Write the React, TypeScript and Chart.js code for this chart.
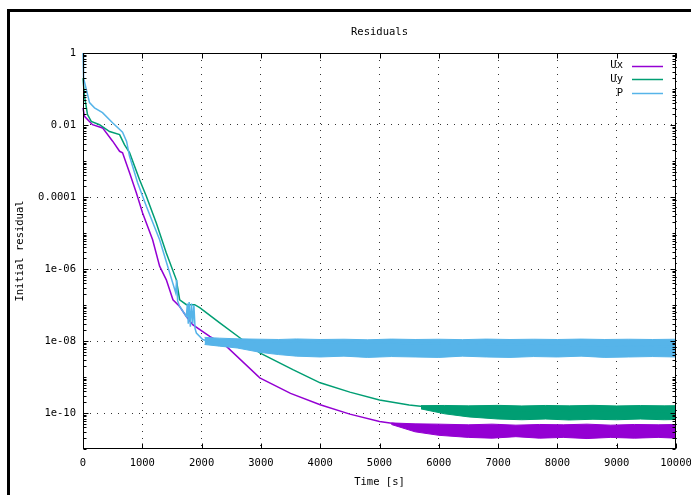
import React, { useEffect, useRef } from "react";
import { Chart, registerables } from "chart.js";

Chart.register(...registerables);

const chartTitle = "Residuals";
const xAxisTitle = "Time [s]";
const yAxisTitle = "Initial residual";
const seriesNames = ["Ux", "Uy", "P"];
const seriesColors = ["#9400D3", "#009E73", "#56B4E9"];

const xMin = 0;
const xMax = 10000;
const xStep = 1000;
const yMin = 1e-11;
const yMax = 1;
const yTickValues = [1, 1e-2, 1e-4, 1e-6, 1e-8, 1e-10];
const yTickLabels = ["1", "0.01", "0.0001", "1e-06", "1e-08", "1e-10"];

// Ux
const uxTime = [0, 25, 160, 330, 500, 617, 667, 785, 899, 1005, 1174, 1292, 1405, 1517, 1630, 1743, 1855, 2137, 2419, 2981, 3500, 4000, 4500, 5000, 5500, 6000, 10000];
const uxValue = [0.03, 0.0174, 0.0102, 0.0083, 0.00355, 0.00186, 0.0017, 4.7e-4, 1.32e-4, 3.6e-5, 6.5e-6, 1.2e-6, 5e-7, 1.4e-7, 9.1e-8, 4.8e-8, 2.8e-8, 1.35e-8, 7.1e-9, 9.5e-10, 3.5e-10, 1.7e-10, 9.3e-11, 5.8e-11, 4.4e-11, 3.6e-11, 3.4e-11];
const uxBandTime = [5200, 5600, 6000, 6500, 6900, 7300, 7700, 8100, 8500, 8900, 9300, 9700, 10000];
const uxBandHigh = [5.3e-11, 5e-11, 4.9e-11, 4.7e-11, 4.9e-11, 4.6e-11, 4.8e-11, 4.7e-11, 4.9e-11, 4.6e-11, 4.8e-11, 4.7e-11, 4.8e-11];
const uxBandLow = [4.8e-11, 3e-11, 2.4e-11, 2.1e-11, 2e-11, 2.2e-11, 2e-11, 2.1e-11, 1.95e-11, 2.1e-11, 2e-11, 2.1e-11, 2e-11];

// Uy
const uyTime = [0, 25, 76, 139, 279, 448, 617, 701, 785, 954, 1068, 1236, 1405, 1574, 1630, 1743, 1883, 1968, 2306, 2644, 2981, 3539, 3826, 4000, 4500, 5000, 5500, 6000, 6500, 10000];
const uyValue = [0.2, 0.063, 0.0195, 0.0126, 0.0102, 0.0066, 0.0054, 0.0028, 0.0017, 3.0e-4, 1.05e-4, 1.9e-5, 2.8e-6, 5e-7, 1.4e-7, 1.02e-7, 1.02e-7, 8.5e-8, 3.2e-8, 1.23e-8, 4.7e-9, 1.6e-9, 9.5e-10, 6.9e-10, 3.8e-10, 2.3e-10, 1.66e-10, 1.35e-10, 1.2e-10, 1.1e-10];
const uyBandTime = [5700, 6100, 6500, 7000, 7400, 7800, 8200, 8600, 9000, 9400, 9800, 10000];
const uyBandHigh = [1.6e-10, 1.62e-10, 1.58e-10, 1.63e-10, 1.57e-10, 1.62e-10, 1.58e-10, 1.63e-10, 1.57e-10, 1.61e-10, 1.58e-10, 1.6e-10];
const uyBandLow = [1.3e-10, 9.5e-11, 7.8e-11, 6.8e-11, 6.5e-11, 6.8e-11, 6.4e-11, 6.7e-11, 6.5e-11, 6.8e-11, 6.5e-11, 6.6e-11];

// P
const pTime = [0, 10, 110, 194, 329, 498, 667, 735, 785, 921, 1068, 1292, 1461, 1563, 1580, 1596, 1630, 1743, 1760, 1775, 1790, 1810, 1830, 1850, 1870, 1890, 1912, 2019, 2100, 10000];
const pValue = [1, 0.2, 0.042, 0.03, 0.022, 0.0115, 0.0063, 0.0035, 0.00135, 2.5e-4, 5.5e-5, 6.5e-6, 7.9e-7, 2.2e-7, 5e-7, 1.3e-7, 9.1e-8, 4.8e-8, 1.1e-7, 3e-8, 1.2e-7, 2.5e-8, 1.1e-7, 3e-8, 1e-7, 2.2e-8, 1.66e-8, 1.1e-8, 1e-8, 7e-9];
const pBandTime = [2050, 2300, 2600, 3000, 3300, 3600, 4000, 4400, 4800, 5200, 5600, 6000, 6400, 6800, 7200, 7600, 8000, 8400, 8800, 9200, 9600, 10000];
const pBandHigh = [1.26e-8, 1.2e-8, 1.15e-8, 1.12e-8, 1.1e-8, 1.14e-8, 1.1e-8, 1.12e-8, 1.08e-8, 1.13e-8, 1.1e-8, 1.12e-8, 1.09e-8, 1.13e-8, 1.1e-8, 1.12e-8, 1.1e-8, 1.13e-8, 1.1e-8, 1.12e-8, 1.1e-8, 1.12e-8];
const pBandLow = [8e-9, 7.2e-9, 6.4e-9, 4.8e-9, 4.2e-9, 3.8e-9, 3.6e-9, 3.8e-9, 3.5e-9, 3.7e-9, 3.6e-9, 3.5e-9, 3.8e-9, 3.6e-9, 3.5e-9, 3.7e-9, 3.6e-9, 3.8e-9, 3.5e-9, 3.6e-9, 3.7e-9, 3.6e-9];

const FONT_FAMILY = '"DejaVu Sans Mono", monospace';
const FONT_SIZE = 10.5;

function pts(t: number[], v: number[]) {
  return t.map((x, i) => ({ x, y: v[i] }));
}

export default function App() {
  const ref = useRef<HTMLCanvasElement>(null);

  useEffect(() => {
    const canvas = ref.current;
    if (!canvas) return;

    const seriesData = [
      { line: pts(uxTime, uxValue), hi: pts(uxBandTime, uxBandHigh), lo: pts(uxBandTime, uxBandLow) },
      { line: pts(uyTime, uyValue), hi: pts(uyBandTime, uyBandHigh), lo: pts(uyBandTime, uyBandLow) },
      { line: pts(pTime, pValue), hi: pts(pBandTime, pBandHigh), lo: pts(pBandTime, pBandLow) },
    ];

    const datasets: any[] = [];
    seriesData.forEach((s, i) => {
      const color = seriesColors[i];
      const order = 2 - i;
      const base = datasets.length;
      datasets.push({
        label: seriesNames[i],
        data: s.line,
        borderColor: color,
        backgroundColor: color,
        borderWidth: 1.5,
        pointRadius: 0,
        tension: 0,
        fill: false,
        order,
        clip: 2,
      });
      datasets.push({
        label: seriesNames[i] + " hi",
        data: s.hi,
        borderColor: color,
        backgroundColor: color,
        borderWidth: 1,
        pointRadius: 0,
        tension: 0,
        fill: false,
        order,
      });
      datasets.push({
        label: seriesNames[i] + " lo",
        data: s.lo,
        borderColor: color,
        backgroundColor: color,
        borderWidth: 1,
        pointRadius: 0,
        tension: 0,
        fill: { target: base + 1 },
        order,
      });
    });

    const font = `${FONT_SIZE}px ${FONT_FAMILY}`;

    const decor = {
      id: "decor",
      beforeDraw(chart: any) {
        const { ctx } = chart;
        ctx.save();
        ctx.fillStyle = "#fff";
        ctx.fillRect(0, 0, chart.width, chart.height);
        ctx.restore();
      },
      afterDraw(chart: any) {
        const { ctx, chartArea: a, scales } = chart;
        const xs = scales.x;
        const ys = scales.y;
        ctx.save();
        // outer frame
        ctx.fillStyle = "#000";
        ctx.fillRect(7, 9, 3, chart.height);
        ctx.fillRect(7, 9, chart.width, 3);

        // plot border
        ctx.strokeStyle = "#000";
        ctx.lineWidth = 1;
        const L = Math.round(a.left) + 0.5;
        const R = Math.round(a.right) - 0.5;
        const T = Math.round(a.top) + 0.5;
        const B = Math.round(a.bottom) - 0.5;
        ctx.strokeRect(L, T, R - L, B - T);

        // inward ticks
        ctx.beginPath();
        xs.ticks.forEach((t: any) => {
          const px = Math.round(xs.getPixelForValue(t.value)) + 0.5;
          ctx.moveTo(px, B);
          ctx.lineTo(px, B - 5);
          ctx.moveTo(px, T);
          ctx.lineTo(px, T + 5);
        });
        for (let d = -11; d <= 0; d++) {
          for (let k = 1; k <= 9; k++) {
            const v = k * Math.pow(10, d);
            if (v < yMin * 0.999 || v > yMax * 1.001) continue;
            const isMajor = yTickValues.some((m) => Math.abs(m - v) / m < 1e-6);
            const len = isMajor ? 5 : 3;
            const py = Math.round(ys.getPixelForValue(v)) + 0.5;
            ctx.moveTo(L, py);
            ctx.lineTo(L + len, py);
            ctx.moveTo(R, py);
            ctx.lineTo(R - len, py);
          }
        }
        ctx.stroke();

        // texts
        ctx.fillStyle = "#000";
        ctx.font = font;
        ctx.textAlign = "center";
        ctx.textBaseline = "middle";
        const cx = (a.left + a.right) / 2;
        ctx.fillText(chartTitle, cx, 32);
        ctx.fillText(xAxisTitle, cx, 482);
        ctx.save();
        ctx.translate(20, (a.top + a.bottom) / 2);
        ctx.rotate(-Math.PI / 2);
        ctx.fillText(yAxisTitle, 0, 0);
        ctx.restore();

        // legend
        const rowY = [65.5, 79.3, 93];
        seriesNames.forEach((name, i) => {
          ctx.textAlign = "right";
          ctx.fillStyle = "#000";
          ctx.fillText(name, 623, rowY[i]);
          ctx.strokeStyle = seriesColors[i];
          ctx.lineWidth = 1.5;
          ctx.beginPath();
          ctx.moveTo(632, Math.round(rowY[i]) + 0.5);
          ctx.lineTo(663, Math.round(rowY[i]) + 0.5);
          ctx.stroke();
        });
        ctx.restore();
      },
    };

    const gridColor = "rgba(0,0,0,0.8)";

    const chart = new Chart(canvas, {
      type: "line",
      data: { datasets },
      plugins: [decor],
      options: {
        animation: false,
        responsive: false,
        devicePixelRatio: 1,
        layout: { padding: { left: 0, right: 15, top: 53, bottom: 0 } },
        plugins: {
          legend: { display: false },
          title: { display: false },
          tooltip: { enabled: false },
        },
        scales: {
          x: {
            type: "linear",
            min: xMin,
            max: xMax,
            ticks: {
              stepSize: xStep,
              autoSkip: false,
              maxRotation: 0,
              padding: 8,
              color: "#000",
              font: { family: FONT_FAMILY, size: FONT_SIZE },
              callback: (v: any) => String(v),
            },
            grid: { color: gridColor, lineWidth: 1, drawTicks: false },
            border: { display: false, dash: [1, 6] },
            afterFit(s: any) {
              s.height = 46;
              s.paddingLeft = 0;
              s.paddingRight = 0;
            },
          },
          y: {
            type: "logarithmic",
            min: yMin,
            max: yMax,
            afterBuildTicks(s: any) {
              s.ticks = yTickValues.map((value) => ({ value }));
            },
            ticks: {
              autoSkip: false,
              padding: 7,
              color: "#000",
              font: { family: FONT_FAMILY, size: FONT_SIZE },
              callback: (v: any) => {
                const idx = yTickValues.findIndex((m) => Math.abs(m - v) / m < 1e-6);
                return idx >= 0 ? yTickLabels[idx] : "";
              },
            },
            grid: { color: gridColor, lineWidth: 1, drawTicks: false },
            border: { display: false, dash: [1, 6] },
            afterFit(s: any) {
              s.width = 83;
              s.paddingTop = 0;
              s.paddingBottom = 0;
            },
          },
        },
      } as any,
    });

    return () => chart.destroy();
  }, []);

  return (
    <div style={{ position: "fixed", left: 0, top: 0, width: 691, height: 495, background: "#fff" }}>
      <canvas ref={ref} width={691} height={495} style={{ display: "block" }} />
    </div>
  );
}
